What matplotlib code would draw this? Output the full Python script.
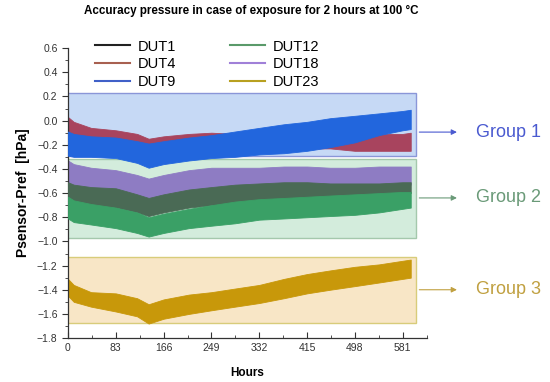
import matplotlib.pyplot as plt
from matplotlib.lines import Line2D
from matplotlib.patches import Rectangle
from matplotlib.ticker import MultipleLocator

plt.rcParams['font.family'] = ['Liberation Sans', 'DejaVu Sans']

hours = [0, 10, 40, 83, 120, 140, 166, 210, 249, 290, 332, 375, 415, 455, 498, 540, 581, 595]

# upper / lower envelope of each noisy trace (hPa)
dut4_hi = [0.03, -0.01, -0.06, -0.08, -0.11, -0.15, -0.13, -0.11, -0.10, -0.11, -0.11, -0.12, -0.12, -0.12, -0.11, -0.11, -0.11, -0.10]
dut4_lo = [-0.12, -0.15, -0.18, -0.20, -0.22, -0.25, -0.23, -0.21, -0.21, -0.22, -0.22, -0.22, -0.23, -0.23, -0.25, -0.25, -0.25, -0.25]
dut9_hi = [-0.09, -0.11, -0.13, -0.14, -0.17, -0.19, -0.17, -0.14, -0.12, -0.09, -0.06, -0.03, -0.01, 0.02, 0.04, 0.06, 0.08, 0.09]
dut9_lo = [-0.29, -0.30, -0.30, -0.31, -0.35, -0.39, -0.36, -0.33, -0.31, -0.30, -0.28, -0.27, -0.25, -0.22, -0.18, -0.12, -0.08, -0.07]
dut18_hi = [-0.33, -0.36, -0.39, -0.41, -0.45, -0.48, -0.45, -0.41, -0.39, -0.39, -0.39, -0.38, -0.38, -0.39, -0.39, -0.38, -0.38, -0.38]
dut18_lo = [-0.51, -0.54, -0.56, -0.59, -0.63, -0.66, -0.62, -0.58, -0.56, -0.55, -0.53, -0.53, -0.53, -0.54, -0.54, -0.53, -0.53, -0.53]
dut1_hi = [-0.51, -0.53, -0.55, -0.56, -0.61, -0.64, -0.61, -0.57, -0.55, -0.53, -0.52, -0.51, -0.51, -0.52, -0.52, -0.52, -0.51, -0.51]
dut1_lo = [-0.66, -0.68, -0.70, -0.72, -0.76, -0.79, -0.76, -0.72, -0.70, -0.68, -0.66, -0.65, -0.64, -0.63, -0.62, -0.61, -0.60, -0.60]
dut12_hi = [-0.63, -0.66, -0.69, -0.72, -0.76, -0.80, -0.77, -0.73, -0.70, -0.67, -0.65, -0.64, -0.63, -0.62, -0.61, -0.60, -0.59, -0.59]
dut12_lo = [-0.81, -0.84, -0.86, -0.89, -0.93, -0.96, -0.93, -0.89, -0.87, -0.85, -0.82, -0.81, -0.80, -0.79, -0.78, -0.76, -0.73, -0.72]
dut23_hi = [-1.31, -1.36, -1.42, -1.43, -1.47, -1.52, -1.48, -1.44, -1.42, -1.39, -1.36, -1.31, -1.27, -1.24, -1.21, -1.19, -1.16, -1.15]
dut23_lo = [-1.45, -1.50, -1.54, -1.58, -1.62, -1.68, -1.64, -1.60, -1.57, -1.54, -1.51, -1.47, -1.43, -1.40, -1.37, -1.34, -1.31, -1.30]

# group boxes: (x0, x1, y_bottom, y_top)
group_names = ['Group 1', 'Group 2', 'Group 3']
group_boxes = [(-2, 605, -0.295, 0.228), (-2, 605, -0.973, -0.319), (-2, 605, -1.677, -1.130)]
group_arrow_y = [-0.095, -0.64, -1.40]

x_ticks = [0, 83, 166, 249, 332, 415, 498, 581]

fig = plt.figure(figsize=(5.5, 3.82), dpi=100)
ax = fig.add_axes([0.1236, 0.115, 0.652, 0.759])

box_fill = ['#c6d9f5', '#d3ecdc', '#f8e6c6']
box_edge = ['#8a96d8', '#a4c8ac', '#d8cc7a']
for (x0, x1, y0, y1), fc, ec in zip(group_boxes, box_fill, box_edge):
    ax.add_patch(Rectangle((x0, y0), x1 - x0, y1 - y0, facecolor=fc,
                           edgecolor=ec, linewidth=1.0, zorder=1))

# traces, drawn in the order they stack in the picture
ax.fill_between(hours, dut4_lo, dut4_hi, color='#a8445e', lw=0.6, zorder=2)
ax.fill_between(hours, dut9_lo, dut9_hi, color='#2266dd', lw=0.6, zorder=3)
ax.fill_between(hours, dut18_lo, dut18_hi, color='#8e7cc3', lw=0.6, zorder=2)
ax.fill_between(hours, dut1_lo, dut1_hi, color='#4a6a55', lw=0.6, zorder=3)
ax.fill_between(hours, dut12_lo, dut12_hi, color='#3aa066', lw=0.6, zorder=4)
ax.fill_between(hours, dut23_lo, dut23_hi, color='#c8980a', lw=0.6, zorder=2)

# legend from proxy lines
leg_labels = ['DUT1', 'DUT4', 'DUT9', 'DUT12', 'DUT18', 'DUT23']
leg_colors = ['#222222', '#a86050', '#4060c8', '#5a9a6a', '#a080d8', '#b8a020']
handles = [Line2D([], [], color=c, lw=1.5) for c in leg_colors]
ax.legend(handles, leg_labels, ncol=2, frameon=False, loc='upper left',
          bbox_to_anchor=(0.04, 1.075), fontsize=10.5, handlelength=2.4,
          columnspacing=3.7, labelspacing=0.25, handletextpad=0.5)

group_colors = ['#4a5ad0', '#6a9a78', '#c0a040']
for name, y, c in zip(group_names, group_arrow_y, group_colors):
    ax.annotate('', xy=(680, y), xytext=(605, y), annotation_clip=False,
                arrowprops=dict(arrowstyle='-|>', color=c, lw=0.8,
                                mutation_scale=8))
    ax.text(708, y, name, color=c, fontsize=13, va='center', ha='left',
            clip_on=False)

ax.set_xlim(0, 622.5)
ax.set_ylim(-1.8, 0.6)
ax.set_xticks(x_ticks)
ax.xaxis.set_minor_locator(MultipleLocator(41.5))
ax.yaxis.set_major_locator(MultipleLocator(0.2))
ax.yaxis.set_minor_locator(MultipleLocator(0.1))
ax.yaxis.set_major_formatter(plt.FuncFormatter(lambda v, p: f'{v:.1f}'.replace('-', '\u2212')))
ax.tick_params(axis='x', which='major', direction='in', length=4, labelsize=7.5, colors='#333333')
ax.tick_params(axis='x', which='minor', direction='in', length=2.5, colors='#333333')
ax.tick_params(axis='y', which='major', direction='out', length=4, labelsize=7.5, colors='#333333')
ax.tick_params(axis='y', which='minor', direction='out', length=2.5, colors='#333333')
for s in ['top', 'right']:
    ax.spines[s].set_visible(False)
for s in ['left', 'bottom']:
    ax.spines[s].set_color('#333333')
    ax.spines[s].set_linewidth(0.9)

ax.set_xlabel('Hours', fontsize=8.5, fontweight='bold', labelpad=10)
ax.set_ylabel('Psensor-Pref  [hPa]', fontsize=10, fontweight='bold', labelpad=5)
fig.text(0.457, 0.97, 'Accuracy pressure in case of exposure for 2 hours at 100 \u00b0C',
         ha='center', va='center', fontsize=8.4, fontweight='bold')

fig.savefig('out.png', dpi=100)
